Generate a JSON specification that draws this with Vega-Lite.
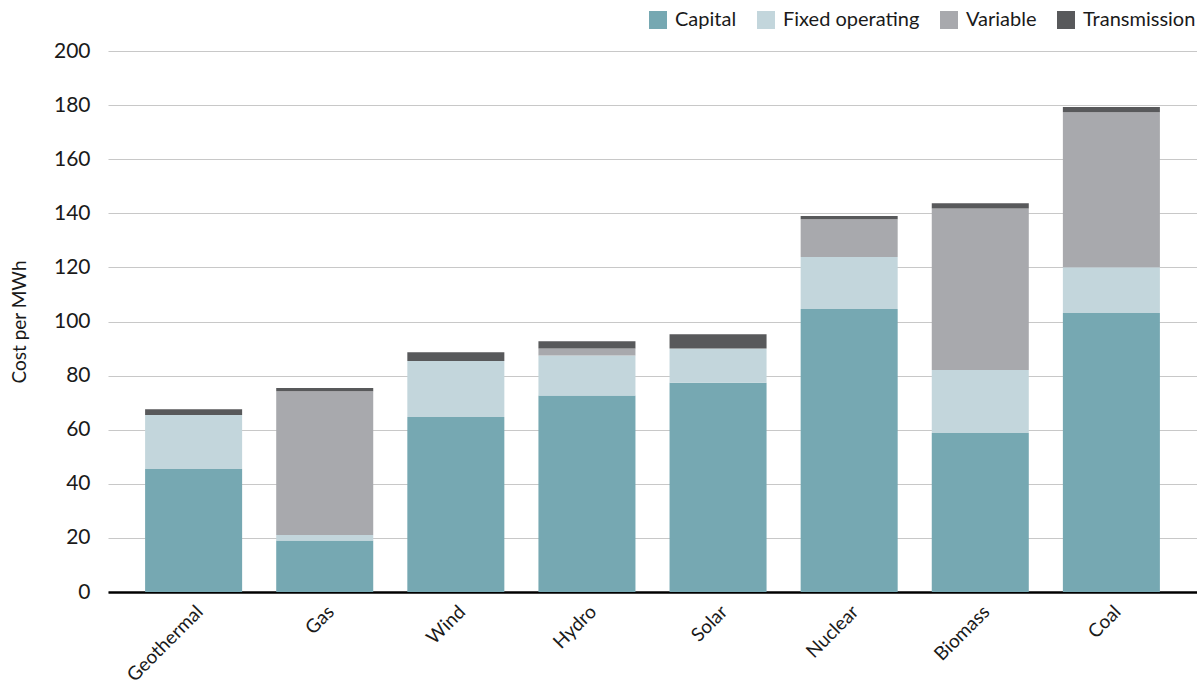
{
  "$schema": "https://vega.github.io/schema/vega-lite/v6.json",
  "width": 1089,
  "height": 541,
  "autosize": "none",
  "padding": {"left": 108, "top": 51, "right": 0, "bottom": 97},
  "config": {
    "font": "Lato",
    "view": {"stroke": null}
  },
  "data": {
    "values": [
      {"source": "Geothermal", "component": "Capital", "order": 1, "value": 45.5},
      {"source": "Geothermal", "component": "Fixed operating", "order": 2, "value": 19.9},
      {"source": "Geothermal", "component": "Variable", "order": 3, "value": 0},
      {"source": "Geothermal", "component": "Transmission", "order": 4, "value": 2.2},
      {"source": "Gas", "component": "Capital", "order": 1, "value": 19.0},
      {"source": "Gas", "component": "Fixed operating", "order": 2, "value": 2.1},
      {"source": "Gas", "component": "Variable", "order": 3, "value": 53.1},
      {"source": "Gas", "component": "Transmission", "order": 4, "value": 1.2},
      {"source": "Wind", "component": "Capital", "order": 1, "value": 64.7},
      {"source": "Wind", "component": "Fixed operating", "order": 2, "value": 20.7},
      {"source": "Wind", "component": "Variable", "order": 3, "value": 0},
      {"source": "Wind", "component": "Transmission", "order": 4, "value": 3.2},
      {"source": "Hydro", "component": "Capital", "order": 1, "value": 72.6},
      {"source": "Hydro", "component": "Fixed operating", "order": 2, "value": 14.8},
      {"source": "Hydro", "component": "Variable", "order": 3, "value": 2.6},
      {"source": "Hydro", "component": "Transmission", "order": 4, "value": 2.7},
      {"source": "Solar", "component": "Capital", "order": 1, "value": 77.4},
      {"source": "Solar", "component": "Fixed operating", "order": 2, "value": 12.6},
      {"source": "Solar", "component": "Variable", "order": 3, "value": 0},
      {"source": "Solar", "component": "Transmission", "order": 4, "value": 5.3},
      {"source": "Nuclear", "component": "Capital", "order": 1, "value": 104.6},
      {"source": "Nuclear", "component": "Fixed operating", "order": 2, "value": 19.2},
      {"source": "Nuclear", "component": "Variable", "order": 3, "value": 14.0},
      {"source": "Nuclear", "component": "Transmission", "order": 4, "value": 1.2},
      {"source": "Biomass", "component": "Capital", "order": 1, "value": 58.8},
      {"source": "Biomass", "component": "Fixed operating", "order": 2, "value": 23.3},
      {"source": "Biomass", "component": "Variable", "order": 3, "value": 59.7},
      {"source": "Biomass", "component": "Transmission", "order": 4, "value": 1.9},
      {"source": "Coal", "component": "Capital", "order": 1, "value": 103.1},
      {"source": "Coal", "component": "Fixed operating", "order": 2, "value": 17.0},
      {"source": "Coal", "component": "Variable", "order": 3, "value": 57.3},
      {"source": "Coal", "component": "Transmission", "order": 4, "value": 1.9}
    ]
  },
  "mark": {"type": "bar"},
  "encoding": {
    "x": {
      "field": "source",
      "type": "nominal",
      "sort": ["Geothermal", "Gas", "Wind", "Hydro", "Solar", "Nuclear", "Biomass", "Coal"],
      "scale": {"paddingInner": 0.26, "paddingOuter": 0.283},
      "axis": {
        "title": null,
        "labelAngle": -45,
        "labelFontSize": 19,
        "labelColor": "#1a1a1a",
        "labelPadding": 10,
        "ticks": false,
        "domainColor": "#000000",
        "domainWidth": 2.5
      }
    },
    "y": {
      "field": "value",
      "type": "quantitative",
      "stack": "zero",
      "scale": {"domain": [0, 200]},
      "axis": {
        "title": "Cost per MWh",
        "titleFontSize": 19,
        "titleFontWeight": "normal",
        "titleColor": "#1a1a1a",
        "titlePadding": 24,
        "values": [0, 20, 40, 60, 80, 100, 120, 140, 160, 180, 200],
        "labelFontSize": 21,
        "labelColor": "#1a1a1a",
        "labelPadding": 18,
        "ticks": false,
        "domain": false,
        "gridColor": "#c8c8c8",
        "gridWidth": 1.2
      }
    },
    "color": {
      "field": "component",
      "type": "nominal",
      "scale": {
        "domain": ["Capital", "Fixed operating", "Variable", "Transmission"],
        "range": ["#76a8b2", "#c3d6dc", "#a8a9ad", "#58595b"]
      },
      "legend": {
        "title": null,
        "orient": "none",
        "direction": "horizontal",
        "legendX": 540,
        "legendY": -41,
        "symbolType": "square",
        "symbolSize": 324,
        "symbolStrokeWidth": 0,
        "labelFontSize": 20,
        "labelColor": "#1a1a1a",
        "columnPadding": 19,
        "labelOffset": 7
      }
    },
    "order": {"field": "order", "type": "quantitative"}
  }
}
